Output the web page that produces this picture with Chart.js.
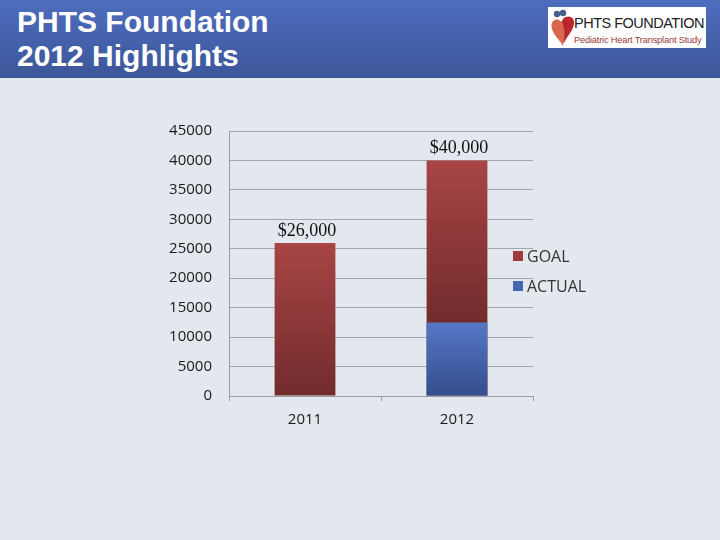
<!DOCTYPE html>
<html>
<head>
<meta charset="utf-8">
<script src="https://cdn.jsdelivr.net/npm/chart.js@4.4.1/dist/chart.umd.min.js"></script>
<style>
  html, body { margin:0; padding:0; }
  body { width:720px; height:540px; background:#E3E7EE; position:relative; overflow:hidden; font-family:"Liberation Sans", Arial, sans-serif; }
  #header { position:absolute; left:0; top:0; width:720px; height:78px; background:linear-gradient(#4D6DBE, #3C5699); }
  #title { position:absolute; left:17px; top:5px; color:#fff; font:bold 30px "Liberation Sans", Arial, sans-serif; line-height:34px; }
  #logo { position:absolute; left:548px; top:7px; width:158px; height:41px; background:#fff; overflow:hidden; }
  #logo .t1 { position:absolute; left:26px; top:8px; font:14.5px "Liberation Sans", Arial, sans-serif; color:#222; letter-spacing:-0.5px; white-space:nowrap; }
  #logo .t2 { position:absolute; left:26px; top:28px; font:9.3px "Liberation Sans", Arial, sans-serif; color:#9a3b3b; white-space:nowrap; letter-spacing:-0.2px; }
  #logo svg { position:absolute; left:2px; top:2px; }
  #wrap { position:absolute; left:0; top:0; width:720px; height:540px; }
</style>
</head>
<body>
<div id="header">
  <div id="title">PHTS Foundation<br>2012 Highlights</div>
  <div id="logo">
    <svg width="26" height="38" viewBox="0 0 26 38">
      <circle cx="7" cy="5" r="3.2" fill="#4a5e8c"/>
      <circle cx="13" cy="4" r="3.2" fill="#4a5e8c"/>
      <path d="M13 10 C18 5 25 8 24 15 C23 22 17 27 14 34 C12 26 8 21 12 12 Z" fill="#b8282e"/>
      <path d="M9 11 C4 9 0 14 2 20 C4 27 10 31 13 37 C15 28 15 20 12 13 Z" fill="#d8674e"/>
    </svg>
    <div class="t1">PHTS FOUNDATION</div>
    <div class="t2">Pediatric Heart Transplant Study</div>
  </div>
</div>
<div id="wrap"><canvas id="c" width="720" height="540"></canvas></div>
<script>
const categories = ["2011", "2012"];
const actualValues = [0, 12500];
const goalValues = [26000, 40000];
const goalLabels = ["$26,000", "$40,000"];
const seriesNames = ["ACTUAL", "GOAL"];
const yTicks = [0, 5000, 10000, 15000, 20000, 25000, 30000, 35000, 40000, 45000];

function barGradient(ctx, topColor, bottomColor, baseArr) {
  const chart = ctx.chart;
  const y = chart.scales.y;
  if (!y || !chart.chartArea || ctx.type !== 'data') return topColor;
  const i = ctx.dataIndex;
  const top = y.getPixelForValue(ctx.raw);
  const base = y.getPixelForValue(baseArr ? baseArr[i] : 0);
  if (!isFinite(top) || !isFinite(base) || Math.abs(base - top) < 1) return topColor;
  const g = chart.ctx.createLinearGradient(0, top, 0, base);
  g.addColorStop(0, topColor);
  g.addColorStop(1, bottomColor);
  return g;
}

const legendColors = { "GOAL": "#9C3B3B", "ACTUAL": "#4466B4" };

const customLegend = {
  id: 'customLegend',
  afterDraw(chart) {
    const c = chart.ctx;
    const names = seriesNames.slice().reverse();
    c.save();
    c.font = '16px "Open Sans", sans-serif';
    c.textBaseline = 'middle';
    names.forEach((n, k) => {
      const cy = 256 + k * 30;
      c.fillStyle = legendColors[n];
      c.fillRect(513, cy - 5, 10, 10);
      c.fillStyle = '#333';
      c.fillText(n, 527, cy + 1);
    });
    c.restore();
  }
};

const valueLabels = {
  id: 'valueLabels',
  afterDatasetsDraw(chart) {
    const meta = chart.getDatasetMeta(1);
    const c = chart.ctx;
    c.save();
    c.font = '18px "Liberation Serif", "Times New Roman", serif';
    c.fillStyle = '#111';
    c.textAlign = 'center';
    c.textBaseline = 'bottom';
    meta.data.forEach((bar, i) => {
      c.fillText(goalLabels[i], bar.x + 2, bar.y - 3);
    });
    c.restore();
  }
};

new Chart(document.getElementById('c'), {
  type: 'bar',
  data: {
    labels: categories,
    datasets: [
      {
        label: seriesNames[0],
        data: actualValues,
        backgroundColor: (ctx) => barGradient(ctx, '#5677C6', '#344E8E', null),
        barPercentage: 0.8,
        categoryPercentage: 0.5
      },
      {
        label: seriesNames[1],
        data: goalValues,
        backgroundColor: (ctx) => barGradient(ctx, '#A84545', '#722B2C', actualValues),
        barPercentage: 0.8,
        categoryPercentage: 0.5
      }
    ]
  },
  options: {
    responsive: false,
    animation: false,
    layout: { padding: { left: 150, right: 187, top: 131, bottom: 104 } },
    plugins: {
      legend: { display: false },
      tooltip: { enabled: false }
    },
    scales: {
      x: {
        stacked: true,
        grid: { display: true, drawOnChartArea: false, drawTicks: true, tickLength: 5, color: '#9A9DA2', offset: true },
        border: { display: true, color: '#9A9DA2', width: 1 },
        ticks: { color: '#1a1a1a', font: { family: '"Open Sans", sans-serif', size: 15 }, padding: 10 },
        afterFit(scale) { scale.height = 40; }
      },
      y: {
        stacked: false,
        min: 0,
        max: 45000,
        afterBuildTicks(scale) { scale.ticks = yTicks.map(v => ({ value: v })); },
        grid: { color: '#A3A6AB', drawTicks: false, lineWidth: 1 },
        border: { display: true, color: '#9A9DA2', width: 1 },
        ticks: { color: '#1a1a1a', font: { family: '"Open Sans", sans-serif', size: 15 }, padding: 17, callback: (v) => String(v) },
        afterFit(scale) { scale.width = 79; }
      }
    }
  },
  plugins: [customLegend, valueLabels]
});
</script>
</body>
</html>
